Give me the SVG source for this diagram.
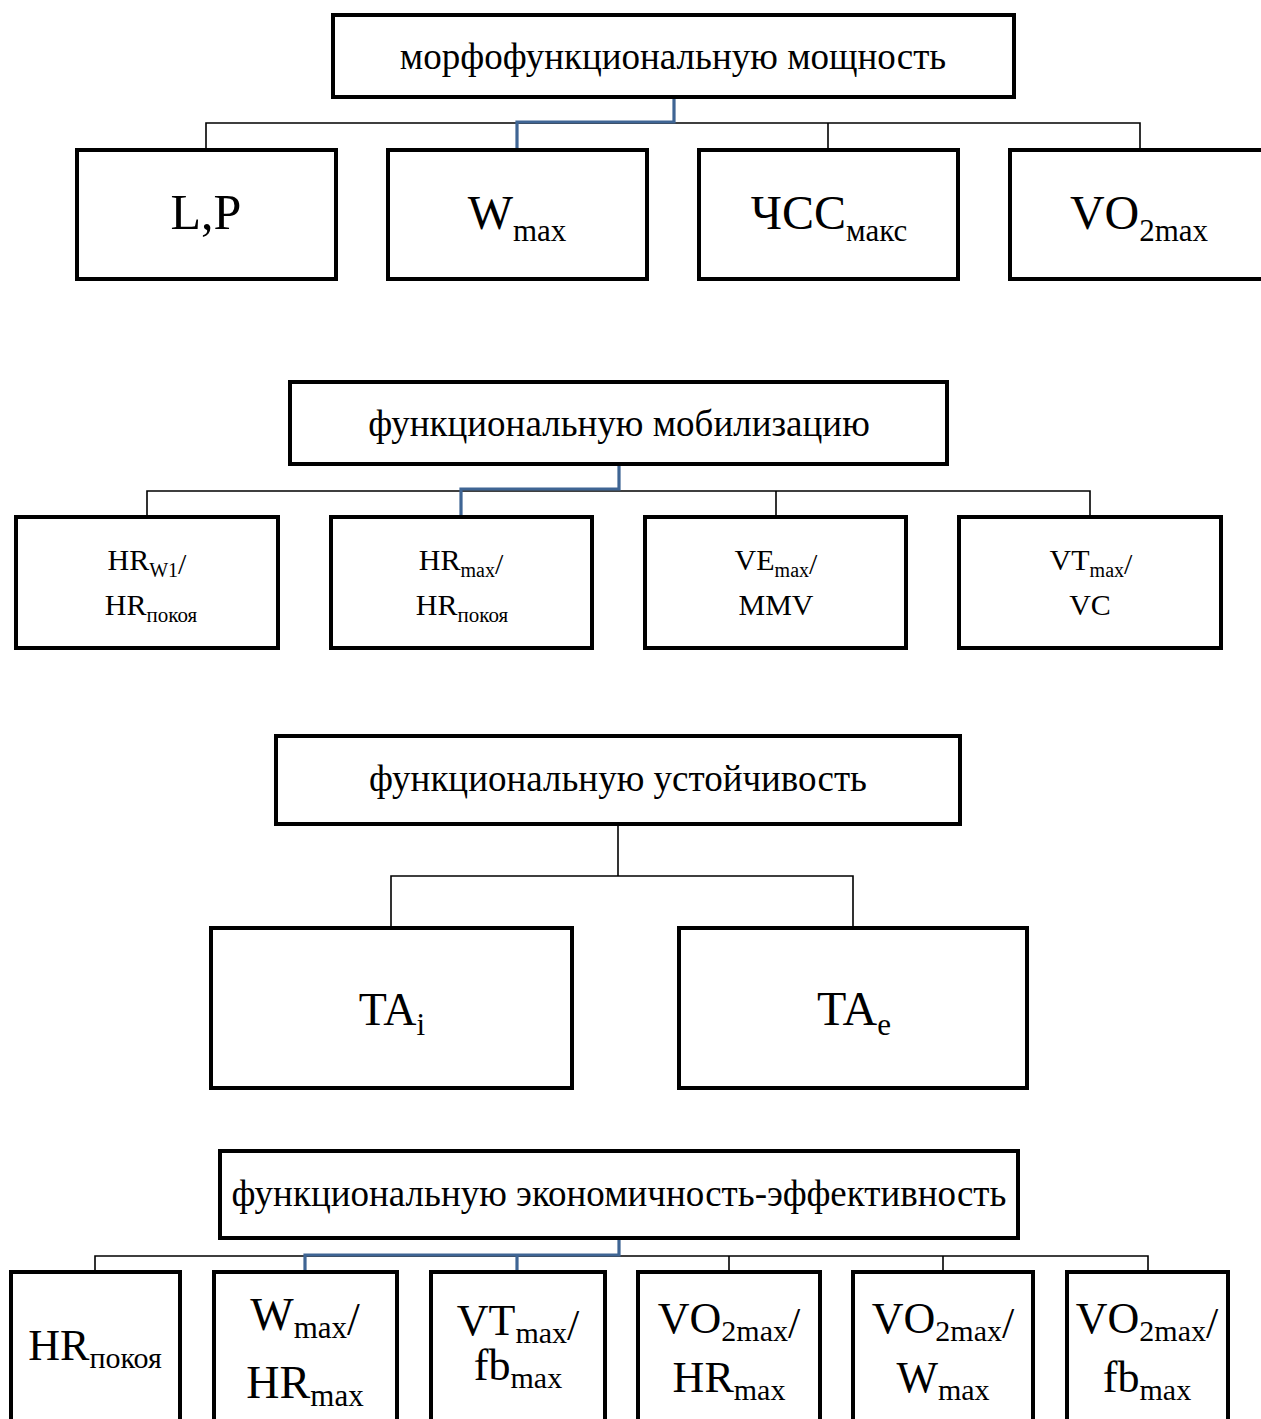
<svg xmlns="http://www.w3.org/2000/svg" width="1261" height="1419" viewBox="0 0 1261 1419">
<style>
.box{fill:#fff;stroke:#000;stroke-width:4}
.ln{fill:none;stroke:#000;stroke-width:1.6}
.bl{fill:none;stroke:#3f6594;stroke-width:3.2}
text{font-family:"Liberation Serif","Times New Roman",serif;fill:#000;text-anchor:middle}
.t{font-size:37px}
.b1{font-size:48px}
.s1{font-size:31px}
.b2{font-size:30px}
.s2{font-size:20px}
.s2b{font-size:21px}
.b4{font-size:44px}
.s4{font-size:30px}
</style>
<rect width="1261" height="1419" fill="#fff"/>
<g id="connectors">
<polyline class="ln" points="206,150 206,123 1140,123 1140,150"/>
<line class="ln" x1="828" y1="123" x2="828" y2="150"/>
<polyline class="bl" points="674,97 674,122 517,122 517,150"/>
<polyline class="ln" points="147,517 147,491 1090,491 1090,517"/>
<line class="ln" x1="776" y1="491" x2="776" y2="517"/>
<polyline class="bl" points="619,464 619,489 461,489 461,517"/>
<line class="ln" x1="618" y1="824" x2="618" y2="876"/>
<polyline class="ln" points="391,928 391,876 853,876 853,928"/>
<polyline class="ln" points="95,1272 95,1256 1148,1256 1148,1272"/>
<line class="ln" x1="729" y1="1256" x2="729" y2="1272"/>
<line class="ln" x1="943" y1="1256" x2="943" y2="1272"/>
<polyline class="bl" points="619,1238 619,1255 305,1255 305,1272"/>
<line class="bl" x1="517" y1="1255" x2="517" y2="1272"/>
</g>
<g id="n1"><rect class="box" x="333" y="15" width="681" height="82"/><text class="t" x="673" y="69">морфофункциональную мощность</text></g>
<g id="n1a"><rect class="box" x="77" y="150" width="259" height="129"/><text class="b1" x="206" y="229" style="font-size:50px">L,P</text></g>
<g id="n1b"><rect class="box" x="388" y="150" width="259" height="129"/><text class="b1" x="517" y="229">W<tspan class="s1" dy="12">max</tspan></text></g>
<g id="n1c"><rect class="box" x="699" y="150" width="259" height="129"/><text class="b1" x="829" y="229">ЧСС<tspan class="s1" dy="12">макс</tspan></text></g>
<g id="n1d"><rect class="box" x="1010" y="150" width="259" height="129"/><text class="b1" x="1139" y="229">VO<tspan class="s1" dy="12">2max</tspan></text></g>

<g id="n2"><rect class="box" x="290" y="382" width="657" height="82"/><text class="t" x="619" y="436">функциональную мобилизацию</text></g>
<g id="n2a"><rect class="box" x="16" y="517" width="262" height="131"/><text class="b2" x="147" y="570">HR<tspan class="s2" dy="7">W1</tspan><tspan dy="-3">/</tspan></text><text class="b2" x="151" y="615">HR<tspan class="s2b" dy="7">покоя</tspan></text></g>
<g id="n2b"><rect class="box" x="331" y="517" width="261" height="131"/><text class="b2" x="461" y="570">HR<tspan class="s2" dy="7">max</tspan><tspan dy="-3">/</tspan></text><text class="b2" x="462" y="615">HR<tspan class="s2b" dy="7">покоя</tspan></text></g>
<g id="n2c"><rect class="box" x="645" y="517" width="261" height="131"/><text class="b2" x="776" y="570">VE<tspan class="s2" dy="7">max</tspan><tspan dy="-3">/</tspan></text><text class="b2" x="776" y="615">MMV</text></g>
<g id="n2d"><rect class="box" x="959" y="517" width="262" height="131"/><text class="b2" x="1091" y="570">VT<tspan class="s2" dy="7">max</tspan><tspan dy="-3">/</tspan></text><text class="b2" x="1090" y="615">VC</text></g>

<g id="n3"><rect class="box" x="276" y="736" width="684" height="88"/><text class="t" x="618" y="791">функциональную устойчивость</text></g>
<g id="n3a"><rect class="box" x="211" y="928" width="361" height="160"/><text class="b1" x="392" y="1025" style="font-size:46px">TA<tspan class="s1" dy="10">i</tspan></text></g>
<g id="n3b"><rect class="box" x="679" y="928" width="348" height="160"/><text class="b1" x="854" y="1025">TA<tspan class="s1" dy="10">e</tspan></text></g>

<g id="n4"><rect class="box" x="220" y="1151" width="798" height="87"/><text class="t" x="619" y="1206">функциональную экономичность-эффективность</text></g>
<g id="n4a"><rect class="box" x="11" y="1272" width="169" height="165"/><text class="b4" x="95" y="1360">HR<tspan class="s4" dy="8">покоя</tspan></text></g>
<g id="n4b"><rect class="box" x="214" y="1272" width="183" height="165"/><text class="b4" x="305" y="1330" style="font-size:46px">W<tspan class="s4" dy="8" style="font-size:31px">max</tspan><tspan dy="-3">/</tspan></text><text class="b4" x="305" y="1398" style="font-size:46px">HR<tspan class="s4" dy="8" style="font-size:31px">max</tspan></text></g>
<g id="n4c"><rect class="box" x="431" y="1272" width="174" height="165"/><text class="b4" x="518" y="1335">VT<tspan class="s4" dy="8">max</tspan><tspan dy="-3">/</tspan></text><text class="b4" x="518" y="1380">fb<tspan class="s4" dy="8">max</tspan></text></g>
<g id="n4d"><rect class="box" x="638" y="1272" width="182" height="165"/><text class="b4" x="729" y="1333">VO<tspan class="s4" dy="8">2max</tspan><tspan dy="-3">/</tspan></text><text class="b4" x="729" y="1392">HR<tspan class="s4" dy="8">max</tspan></text></g>
<g id="n4e"><rect class="box" x="853" y="1272" width="180" height="165"/><text class="b4" x="943" y="1333">VO<tspan class="s4" dy="8">2max</tspan><tspan dy="-3">/</tspan></text><text class="b4" x="943" y="1392">W<tspan class="s4" dy="8">max</tspan></text></g>
<g id="n4f"><rect class="box" x="1067" y="1272" width="161" height="165"/><text class="b4" x="1147" y="1333">VO<tspan class="s4" dy="8">2max</tspan><tspan dy="-3">/</tspan></text><text class="b4" x="1147" y="1392">fb<tspan class="s4" dy="8">max</tspan></text></g>
</svg>
